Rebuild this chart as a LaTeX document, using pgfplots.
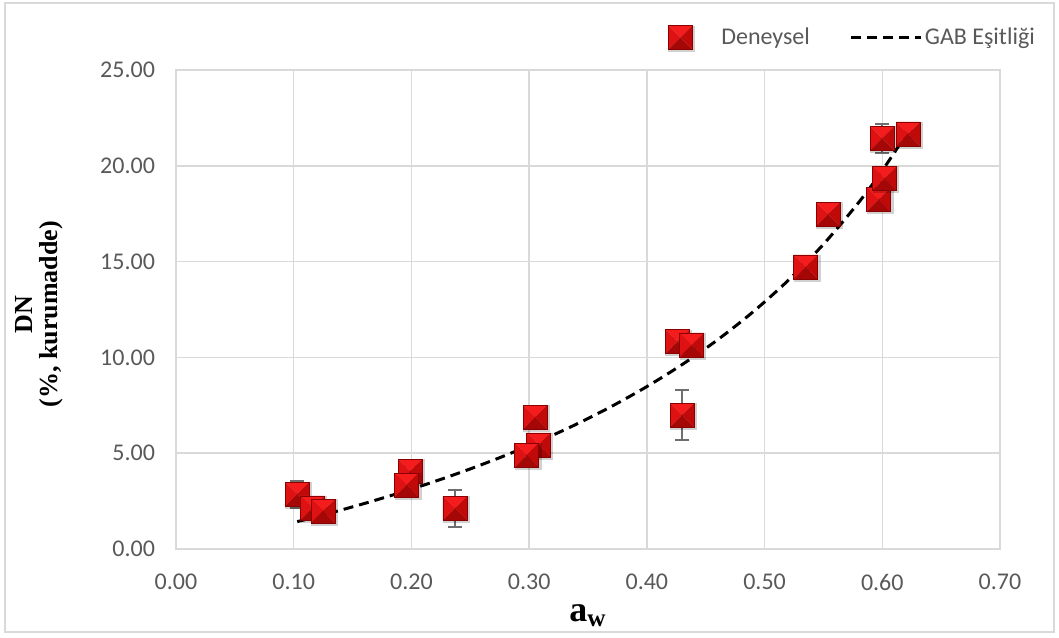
\documentclass[border=0pt]{standalone}
\usepackage{fontspec}
\setmainfont{Carlito}
\newfontfamily\tnr{Liberation Serif}
\usepackage{pgfplots}
\pgfplotsset{compat=1.18}

\definecolor{gridgray}{HTML}{D9D9D9}
\definecolor{ticktext}{HTML}{595959}
\definecolor{errgray}{HTML}{6E6E6E}
\definecolor{pyrTop}{HTML}{F41C1C}
\definecolor{pyrLeft}{HTML}{DE1212}
\definecolor{pyrRight}{HTML}{C00A0A}
\definecolor{pyrBottom}{HTML}{A50606}
\definecolor{pyrEdge}{HTML}{8A0000}

% bevelled square marker: four shaded facets meeting in the centre
\pgfdeclareplotmark{pyr}{%
  \pgfmathsetlengthmacro{\s}{\pgfplotmarksize}%
  \pgfmathsetlengthmacro{\sh}{\pgfplotmarksize+1.4pt}%
  \pgfsetfillopacity{0.18}%
  \pgfsetfillcolor{black}%
  \pgfpathrectanglecorners{\pgfqpoint{-\s+1.4pt}{-\sh}}{\pgfqpoint{\sh}{\s-1.4pt}}%
  \pgfusepath{fill}%
  \pgfsetfillopacity{1}%
  \pgfsetfillcolor{pyrTop}%
  \pgfpathmoveto{\pgfqpoint{-\s}{\s}}\pgfpathlineto{\pgfqpoint{\s}{\s}}\pgfpathlineto{\pgfqpoint{0pt}{0pt}}\pgfpathclose\pgfusepath{fill}%
  \pgfsetfillcolor{pyrLeft}%
  \pgfpathmoveto{\pgfqpoint{-\s}{\s}}\pgfpathlineto{\pgfqpoint{-\s}{-\s}}\pgfpathlineto{\pgfqpoint{0pt}{0pt}}\pgfpathclose\pgfusepath{fill}%
  \pgfsetfillcolor{pyrRight}%
  \pgfpathmoveto{\pgfqpoint{\s}{\s}}\pgfpathlineto{\pgfqpoint{\s}{-\s}}\pgfpathlineto{\pgfqpoint{0pt}{0pt}}\pgfpathclose\pgfusepath{fill}%
  \pgfsetfillcolor{pyrBottom}%
  \pgfpathmoveto{\pgfqpoint{-\s}{-\s}}\pgfpathlineto{\pgfqpoint{\s}{-\s}}\pgfpathlineto{\pgfqpoint{0pt}{0pt}}\pgfpathclose\pgfusepath{fill}%
  \pgfsetstrokecolor{pyrEdge}%
  \pgfsetlinewidth{0.35pt}%
  \pgfpathrectanglecorners{\pgfqpoint{-\s}{-\s}}{\pgfqpoint{\s}{\s}}%
  \pgfusepath{stroke}%
}

\begin{document}
\begin{tikzpicture}
% canvas and outer frame
\path (0,0) rectangle (529.5pt,318.5pt);
\draw[gridgray, line width=0.8pt] (2.5pt,2.5pt) rectangle (527pt,317pt);

\begin{axis}[
  at={(88pt,44pt)}, anchor=south west,
  scale only axis, width=412pt, height=239.5pt,
  xmin=0, xmax=0.7, ymin=0, ymax=25,
  xtick distance=0.1, ytick distance=5,
  grid=major,
  major grid style={gridgray, line width=0.75pt},
  axis line style={gridgray, line width=0.75pt},
  tick style={draw=none},
  /pgf/number format/assume math mode=true,
  xticklabel={\pgfmathprintnumber[fixed,fixed zerofill,precision=2]{\tick}},
  yticklabel={\pgfmathprintnumber[fixed,fixed zerofill,precision=2]{\tick}},
  scaled x ticks=false, scaled y ticks=false,
  ticklabel style={font=\fontsize{12}{14}\selectfont, text=ticktext},
  xticklabel style={yshift=-9pt},
  yticklabel style={xshift=-7pt},
  xlabel={a\textsubscript{w}},
  xlabel style={at={(axis description cs:0.5,-0.14)}, anchor=center,
                font=\tnr\bfseries\fontsize{18}{18}\selectfont},
  ylabel={DN\\(\%, kurumadde)},
  ylabel style={at={(axis description cs:-0.166,0.49)}, anchor=center, align=center,
                font=\tnr\bfseries\fontsize{13}{12.5}\selectfont},
  legend style={at={(axis description cs:1.0525,1.0668)}, anchor=east, draw=none, fill=none,
                legend columns=2, font=\fontsize{12}{14}\selectfont, text=ticktext,
                nodes={inner xsep=1pt},
                /tikz/every even column/.append style={column sep=19pt}},
  clip=false,
]

% experimental points (a_w, moisture, std. deviation)
\addplot[only marks, mark=pyr, mark size=6pt,
  legend image code/.code={\path[draw=none, fill=none] (-6pt,0pt) -- (19.5pt,0pt);
    \draw[mark=pyr, mark size=6pt] plot coordinates {(0pt,0pt)};},
  error bars/.cd, y dir=both, y explicit,
  error bar style={errgray, line width=0.9pt},
  error mark options={errgray, line width=0.9pt, mark size=3.5pt, rotate=90}]
  table[x=a, y=m, y error=s] {
  a      m      s
  0.103  2.86   0.70
  0.116  2.14   0.20
  0.125  1.98   0.15
  0.199  4.07   0.25
  0.196  3.34   0.25
  0.237  2.12   0.97
  0.305  6.87   0.15
  0.308  5.43   0.30
  0.298  4.90   0.20
  0.426  10.82  0.20
  0.438  10.65  0.15
  0.430  6.99   1.30
  0.535  14.72  0.15
  0.554  17.47  0.60
  0.597  18.25  0.60
  0.602  19.35  0.20
  0.600  21.43  0.77
  0.622  21.66  0.15
  };
\addlegendentry{Deneysel}

% GAB model curve
\addplot[black, line width=1.5pt, dash pattern=on 5pt off 3pt, smooth,
  legend image code/.code={\draw[black, line width=1.5pt, dash pattern=on 5pt off 3pt] (0pt,0pt) -- (35pt,0pt);}]
  coordinates {
  (0.103,1.428) (0.13,1.860) (0.16,2.375) (0.19,2.930) (0.22,3.531)
  (0.25,4.181) (0.28,4.889) (0.31,5.662) (0.34,6.510) (0.37,7.443)
  (0.40,8.477) (0.43,9.627) (0.46,10.914) (0.49,12.366) (0.52,14.015)
  (0.55,15.904) (0.58,18.090) (0.60,19.749) (0.622,21.800)
  };
\addlegendentry{GAB Eşitliği}
\end{axis}
\end{tikzpicture}
\end{document}
